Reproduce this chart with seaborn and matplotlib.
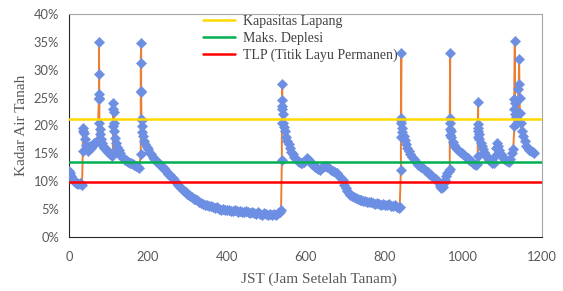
import matplotlib
matplotlib.use("Agg")
import matplotlib.pyplot as plt
import seaborn as sns
import pandas as pd
from matplotlib.ticker import FuncFormatter

# ---- data (hours after planting, soil water content in %) ----
jst = [
    0, 3, 6, 9, 12, 15, 18, 21, 24, 27, 30, 33,
    35, 35, 36, 38, 40, 42, 45, 48, 51, 54, 57, 60, 63, 66, 69, 72,
    76, 76, 76, 76, 77, 77, 78, 79, 81, 84, 87, 90, 93, 96, 99, 102, 105, 108, 111,
    112, 112, 112, 113, 114, 115, 117, 120, 123, 126, 129, 132, 135, 138, 141, 144, 147, 150,
    154, 158, 162, 166, 170, 174, 178,
    182, 182, 182, 182, 183, 183, 184, 185, 186, 188, 191, 194, 197, 200, 204, 208, 212, 216,
    220, 224, 228, 232, 236, 240, 244, 248, 252, 256, 260, 264, 268, 272, 276, 280, 284, 288,
    292, 296, 300, 304, 308, 312, 316, 320, 325, 330, 335, 340, 345, 350, 355, 360, 365, 370,
    375, 380, 385, 390, 395, 400, 405, 410, 415, 420, 425, 430, 435, 440, 445, 450, 455, 460,
    465, 470, 475, 480, 485, 490, 495, 500, 505, 510, 515, 520, 525, 530, 535, 538,
    540, 540, 540, 540, 541, 541, 542, 543, 545, 548, 551, 554, 557, 560, 564, 568, 572, 576,
    580, 584, 588, 592, 596, 600, 604, 608, 612, 616, 620, 624, 628, 632, 636, 640, 645, 650,
    655, 660, 665, 670, 675, 680, 685, 690, 694, 698, 702, 706, 710, 714, 718, 722, 727, 732,
    737, 742, 747, 752, 757, 762, 767, 772, 777, 782, 787, 792, 797, 802, 807, 812, 817, 822,
    827, 832, 836, 839,
    842, 842, 842, 842, 843, 843, 844, 846, 849, 852, 855, 858, 862, 866, 870, 874, 878, 882,
    886, 890, 894, 898, 902, 906, 910, 914, 918, 922, 926, 930, 934, 938, 942, 945, 948, 951,
    954, 957, 960, 963,
    966, 966, 966, 966, 967, 967, 968, 970, 973, 976, 980, 984, 988, 992, 996, 1000, 1004,
    1008, 1012, 1016, 1020, 1024, 1028, 1032, 1035,
    1037, 1037, 1037, 1037, 1038, 1038, 1039, 1041, 1044, 1047, 1050, 1053, 1056, 1059, 1062,
    1066, 1070, 1074, 1078, 1081, 1084, 1086, 1089, 1092, 1096, 1100, 1104, 1108, 1112, 1116,
    1120, 1124, 1127,
    1130, 1130, 1130, 1131, 1131, 1132, 1134, 1136, 1138, 1140, 1141, 1142, 1143, 1144, 1146,
    1149, 1152, 1156, 1160, 1164, 1168, 1172, 1176, 1180,
]
kadar_air = [
    11.8, 11.5, 11.0, 10.4, 10.0, 9.8, 9.6, 9.6, 9.5, 9.6, 9.5, 9.4,
    15.4, 19.6, 19.0, 18.7, 17.5, 16.5, 15.7, 15.5, 16.0, 16.3, 16.0, 16.5, 16.8, 16.9, 17.0, 17.2,
    24.7, 25.6, 29.2, 35.0, 25.0, 20.5, 19.3, 18.5, 17.5, 16.9, 16.4, 16.0, 15.7, 15.5, 15.3, 15.1, 14.9, 14.6, 15.1,
    19.9, 22.9, 24.1, 22.5, 20.5, 19.0, 17.8, 16.9, 16.2, 15.6, 15.1, 14.6, 14.4, 14.1, 13.9, 13.8, 13.6, 13.5,
    13.3, 13.2, 13.1, 12.9, 12.7, 12.6, 12.3,
    14.8, 21.1, 26.2, 31.3, 34.8, 26.0, 21.0, 20.0, 18.8, 18.1, 17.2, 16.6, 16.1, 15.7, 15.2, 14.8, 14.4, 14.0,
    13.7, 13.5, 13.2, 12.9, 12.6, 12.3, 12.0, 11.6, 11.3, 11.1, 10.8, 10.5, 10.1, 9.8, 9.4, 9.1, 8.8, 8.5,
    8.3, 8.0, 7.8, 7.5, 7.3, 7.1, 6.9, 6.8, 6.6, 6.3, 6.1, 6.0, 5.8, 5.7, 5.5, 5.5, 5.3, 5.2,
    5.3, 5.0, 4.9, 5.1, 4.9, 4.8, 4.9, 4.7, 4.6, 4.8, 4.6, 4.5, 4.7, 4.5, 4.4, 4.6, 4.4, 4.3,
    4.5, 4.3, 4.1, 4.4, 4.2, 4.0, 4.3, 4.1, 4.0, 4.2, 4.0, 4.1, 4.0, 4.3, 4.5, 4.9,
    13.9, 20.5, 22.9, 23.5, 27.5, 24.5, 22.0, 20.5, 19.8, 19.0, 18.0, 17.2, 16.6, 16.0, 15.3, 14.8, 14.4, 14.0,
    13.7, 13.4, 13.3, 13.2, 13.5, 13.9, 14.2, 13.8, 13.4, 13.1, 12.9, 12.6, 12.4, 12.2, 12.0, 12.3, 12.6, 12.7,
    12.5, 12.3, 12.0, 11.8, 11.7, 11.5, 11.0, 10.6, 10.2, 9.4, 8.7, 8.3, 7.9, 7.6, 7.3, 7.1, 7.0, 6.8,
    6.7, 6.6, 6.4, 6.5, 6.3, 6.2, 6.3, 6.1, 6.0, 6.1, 5.9, 5.8, 6.0, 5.8, 5.7, 5.9, 5.6, 5.5,
    5.7, 5.4, 5.2, 5.4,
    12.1, 18.0, 20.5, 21.4, 33.0, 21.0, 19.5, 18.8, 18.1, 17.4, 16.6, 16.0, 15.4, 14.9, 14.4, 14.0, 13.6, 13.3,
    13.0, 12.8, 12.6, 12.3, 12.1, 11.8, 11.6, 11.3, 11.1, 10.9, 10.6, 10.4, 10.0, 9.6, 9.1, 8.7, 9.0, 9.6,
    10.3, 10.9, 11.4, 11.8,
    12.2, 18.3, 19.3, 21.4, 33.0, 20.5, 19.0, 18.0, 17.0, 16.5, 16.1, 15.8, 15.6, 15.3, 15.1, 14.8, 14.6,
    14.4, 14.2, 13.9, 13.6, 13.3, 13.1, 12.9, 13.1,
    14.5, 18.0, 19.0, 20.2, 24.2, 19.5, 18.5, 17.5, 16.8, 16.3, 15.8, 15.3, 14.9, 14.6, 14.2,
    13.9, 13.6, 13.3, 13.3, 14.5, 16.0, 16.9, 16.3, 15.6, 14.9, 14.4, 14.0, 13.8, 13.6, 13.5,
    14.0, 15.1, 15.8,
    20.0, 22.9, 24.7, 35.1, 24.0, 22.0, 21.5, 20.5, 22.0, 26.5, 27.4, 32.0, 25.0, 22.3, 20.5,
    19.0, 18.1, 17.2, 16.3, 15.9, 15.6, 15.4, 15.2, 15.0,
]

batas_label = ["Kapasitas Lapang", "Maks. Deplesi", "TLP (Titik Layu Permanen)"]
batas_nilai = [21.2, 13.5, 9.8]
batas_warna = ["#FFD800", "#00B050", "#FF0000"]

x_ticks = [0, 200, 400, 600, 800, 1000, 1200]
y_ticks = [0, 5, 10, 15, 20, 25, 30, 35, 40]

df = pd.DataFrame({"jst": jst, "kadar": [v / 100 for v in kadar_air]})

sns.set_theme(style="white")
plt.rcParams["font.family"] = ["Lato", "DejaVu Sans"]

fig = plt.figure(figsize=(5.63, 2.91), dpi=100)
ax = fig.add_axes([69 / 563, 1 - 237 / 291, (542 - 69) / 563, (237 - 14) / 291])

sns.lineplot(data=df, x="jst", y="kadar", sort=False, estimator=None,
             color="#ED7D31", linewidth=1.4, ax=ax, zorder=2)
sns.scatterplot(data=df, x="jst", y="kadar", marker="D", s=28,
                color="#6D8FE3", edgecolor="#6D8FE3", linewidth=0.3, ax=ax, zorder=3)

for lab, val, col in zip(batas_label, batas_nilai, batas_warna):
    ax.axhline(val / 100, color=col, linewidth=1.8, label=lab, zorder=4)

ax.set_xlim(0, 1200)
ax.set_ylim(0, 0.40)
ax.set_xticks(x_ticks)
ax.set_yticks([t / 100 for t in y_ticks])
ax.yaxis.set_major_formatter(FuncFormatter(lambda v, p: f"{v*100:.0f}%"))
ax.tick_params(axis="both", length=0, labelsize=9.3, labelcolor="#595959")
ax.tick_params(axis="x", pad=10)
ax.tick_params(axis="y", pad=7)

for s in ["top", "right"]:
    ax.spines[s].set_color("#A6A6A6")
    ax.spines[s].set_linewidth(0.8)
for s in ["left", "bottom"]:
    ax.spines[s].set_color("#262626")
    ax.spines[s].set_linewidth(0.8)

ax.set_xlabel("JST (Jam Setelah Tanam)", fontsize=11, family="Liberation Serif", color="#595959")
ax.set_ylabel("Kadar Air Tanah", fontsize=11, family="Liberation Serif", color="#595959")
ax.xaxis.set_label_coords((319 - 69) / 473, (237 - 273) / 223)
ax.yaxis.set_label_coords((28 - 69) / 473, 0.5)

leg = ax.legend(loc="upper left", bbox_to_anchor=((203 - 69) / 473, 0.995), frameon=False,
                borderaxespad=0, borderpad=0, handlelength=2.3, handletextpad=0.6,
                labelspacing=0.25, prop={"family": "Liberation Serif", "size": 10})
for t in leg.get_texts():
    t.set_color("#404040")

fig.savefig("out.png", dpi=100)
